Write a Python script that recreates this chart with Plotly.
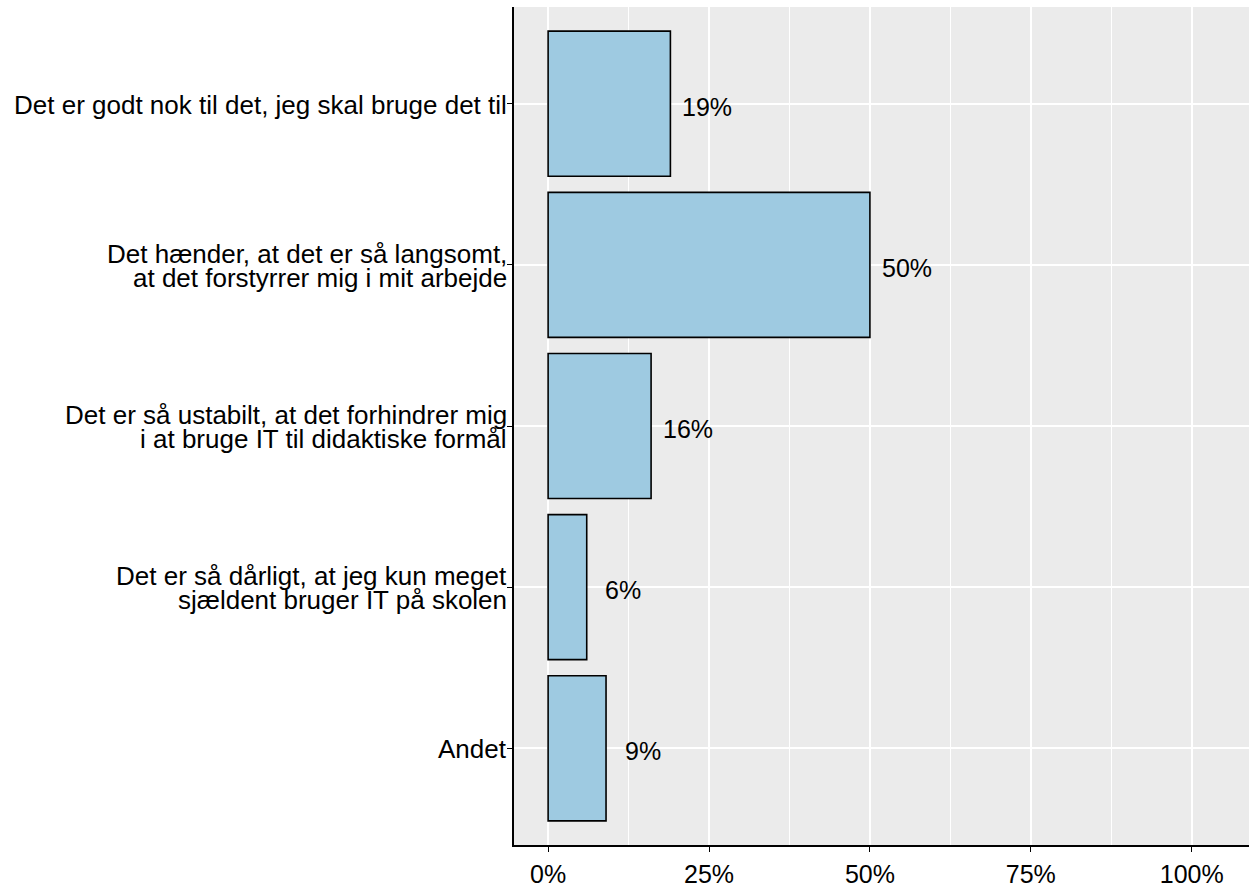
import plotly.graph_objects as go

categories = [
    "Det er godt nok til det, jeg skal bruge det til",
    "Det hænder, at det er så langsomt,\nat det forstyrrer mig i mit arbejde",
    "Det er så ustabilt, at det forhindrer mig\ni at bruge IT til didaktiske formål",
    "Det er så dårligt, at jeg kun meget\nsjældent bruger IT på skolen",
    "Andet",
]
values = [0.19, 0.50, 0.16, 0.06, 0.09]
value_labels = ["19%", "50%", "16%", "6%", "9%"]
x_tickvals = [0, 0.25, 0.5, 0.75, 1.0]
x_ticktext = ["0%", "25%", "50%", "75%", "100%"]

label_offset = 0.057
FONT = "Liberation Sans, Arial, sans-serif"

fig = go.Figure()
fig.add_trace(go.Bar(
    x=values, y=categories, orientation="h", width=0.9,
    marker=dict(color="#9ECAE1", line=dict(color="black", width=1.6)),
    hoverinfo="skip",
))

# value labels next to bars
for cat, v, lab in zip(categories, values, value_labels):
    fig.add_annotation(
        x=v + label_offset, xref="x", y=cat, yref="y", text=lab, showarrow=False,
        xanchor="center", yanchor="middle", yshift=-3,
        font=dict(family=FONT, size=25, color="black"),
    )

# category labels drawn line by line for ggplot-like line spacing
line_gap = 24
for cat in categories:
    lines = cat.split("\n")
    n = len(lines)
    for i, ln in enumerate(lines):
        fig.add_annotation(
            x=0, xref="paper", y=cat, yref="y", text=ln, showarrow=False,
            xanchor="right", yanchor="middle", xshift=-6, borderpad=0,
            yshift=((n - 1) / 2 - i) * line_gap - 1,
            font=dict(family=FONT, size=26, color="black"),
        )

fig.update_layout(
    width=1249, height=888,
    margin=dict(l=514, r=0, t=7, b=35),
    paper_bgcolor="white", plot_bgcolor="#EBEBEB",
    showlegend=False,
    font=dict(family=FONT, size=25, color="black"),
)
fig.update_xaxes(
    range=[-0.053, 1.089], tickvals=x_tickvals, ticktext=x_ticktext,
    showgrid=True, gridcolor="white", gridwidth=2,
    minor=dict(tickvals=[0.125, 0.375, 0.625, 0.875], showgrid=True, gridcolor="white", gridwidth=1, ticks=""),
    zeroline=False, showline=True, linecolor="black", linewidth=1.6,
    ticks="outside", ticklen=5, tickwidth=1.2, tickcolor="black",
    tickfont=dict(family=FONT, size=25, color="black"), ticklabelstandoff=1,
)
fig.update_yaxes(
    type="category", categoryorder="array", categoryarray=categories,
    range=[4.6, -0.6], showticklabels=False,
    showgrid=True, gridcolor="white", gridwidth=2,
    zeroline=False, showline=True, linecolor="black", linewidth=1.6,
    ticks="outside", ticklen=5, tickwidth=1.2, tickcolor="black",
)

fig.write_html("out.html", config={"displayModeBar": False},
               post_script="document.body.style.margin='0';")
